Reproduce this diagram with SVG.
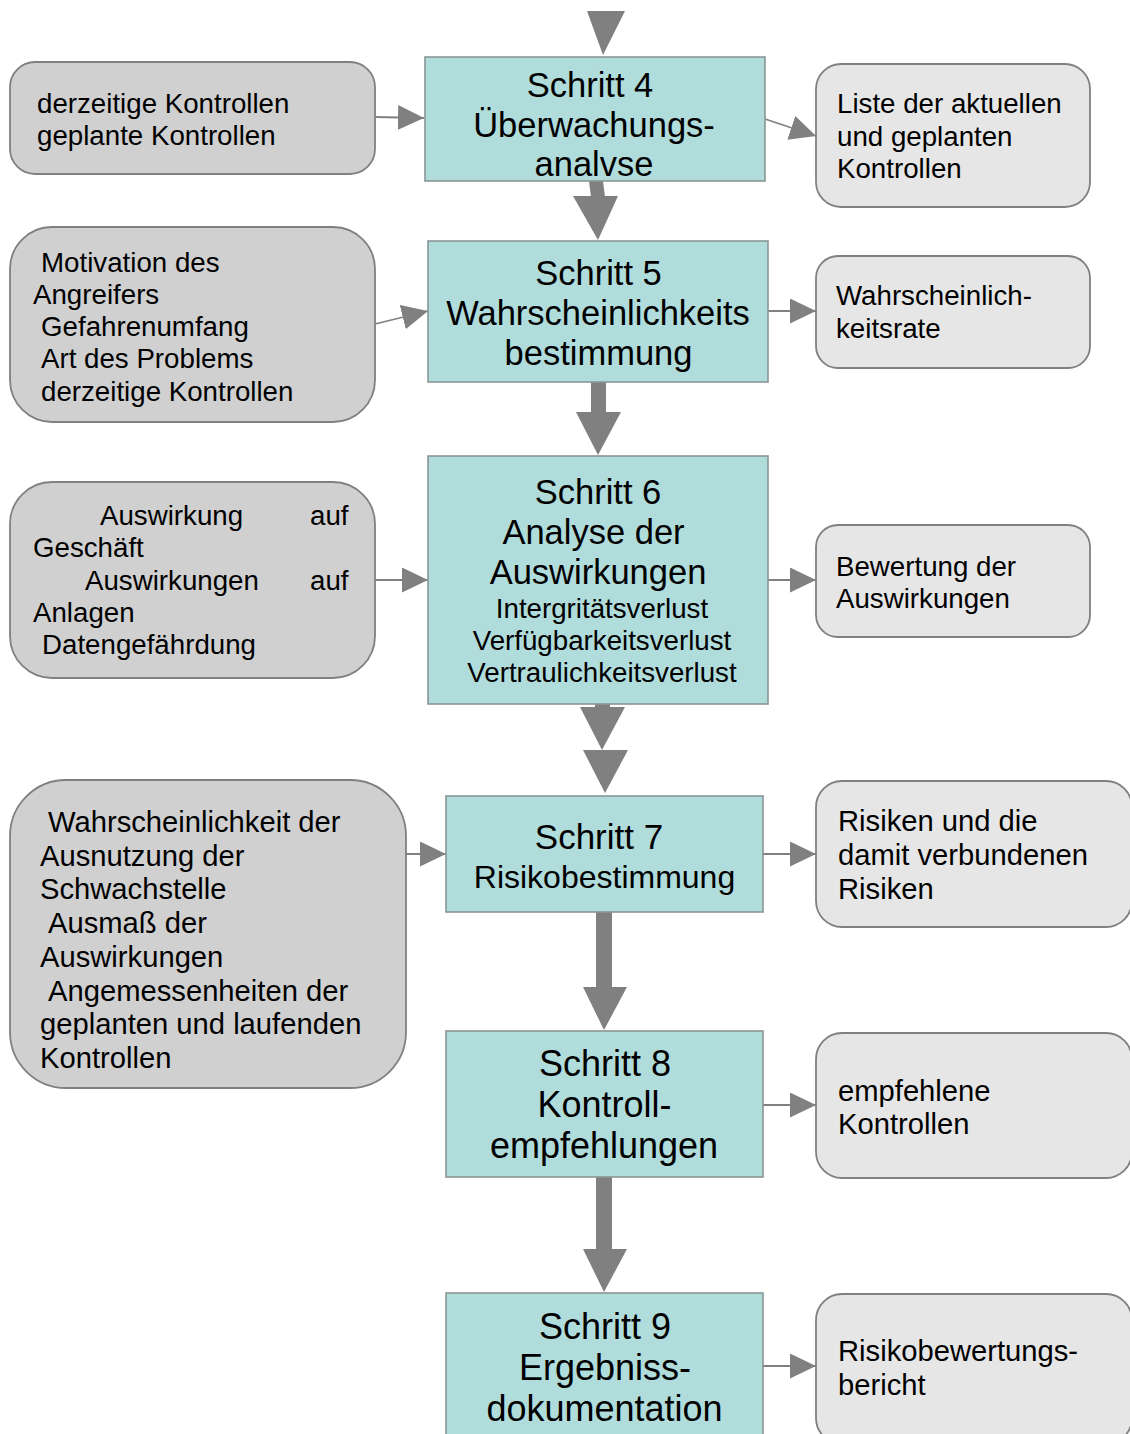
<svg xmlns="http://www.w3.org/2000/svg" width="1130" height="1434" viewBox="0 0 1130 1434">
<style>
text{font-family:"Liberation Sans",Arial,sans-serif;fill:#000}
.t{font-size:34.5px;text-anchor:middle}
.tl{font-size:36px;text-anchor:middle}
.s{font-size:27.7px}
.m{font-size:27.7px;text-anchor:middle}
.b{font-size:29.2px}
.step{fill:#b0dcdb;stroke:#8a9696;stroke-width:1.6}
.in{fill:#d0d0d0;stroke:#808080;stroke-width:1.8}
.out{fill:#e6e6e6;stroke:#808080;stroke-width:1.8}
.ln{stroke:#808080;stroke-width:1.8;fill:none;marker-end:url(#ah)}
.fat{fill:#808080}
</style>
<defs>
<marker id="ah" markerUnits="userSpaceOnUse" markerWidth="27" markerHeight="26" refX="26" refY="12.5" orient="auto">
<path d="M0,0 L26,12.5 L0,25 Z" fill="#808080"/>
</marker>
</defs>
<rect width="1130" height="1434" fill="#fff"/>

<g id="connectors">
<polygon class="fat" points="587,11 625,11 603,55"/>
<polygon class="fat" points="589,181 603,181 605,197 591,197"/>
<polygon class="fat" points="573,196 618,196 598,240"/>
<rect class="fat" x="591" y="382" width="15" height="31"/>
<polygon class="fat" points="576,412 621,412 598,455"/>
<rect class="fat" x="595" y="704" width="15" height="4"/>
<polygon class="fat" points="580,707 625,707 602,750"/>
<polygon class="fat" points="583,750 628,750 605,793"/>
<rect class="fat" x="596" y="912" width="16" height="76"/>
<polygon class="fat" points="583,987 627,987 604,1030"/>
<rect class="fat" x="596" y="1177" width="16" height="73"/>
<polygon class="fat" points="583,1249 627,1249 604,1292"/>
<line class="ln" x1="375" y1="117" x2="424" y2="118"/>
<line class="ln" x1="765" y1="119" x2="816" y2="136"/>
<line class="ln" x1="375" y1="324" x2="428" y2="311"/>
<line class="ln" x1="768" y1="311" x2="816" y2="311"/>
<line class="ln" x1="374" y1="580" x2="428" y2="580"/>
<line class="ln" x1="768" y1="580" x2="816" y2="580"/>
<line class="ln" x1="405" y1="854" x2="446" y2="854"/>
<line class="ln" x1="763" y1="854" x2="816" y2="854"/>
<line class="ln" x1="763" y1="1105" x2="816" y2="1105"/>
<line class="ln" x1="763" y1="1366" x2="816" y2="1366"/>
</g>

<g id="step4">
<rect class="step" x="425" y="57" width="340" height="124"/>
<text class="t"><tspan x="590" y="96.5">Schritt 4</tspan><tspan x="594" y="136.5">Überwachungs-</tspan><tspan x="594" y="176">analvse</tspan></text>
</g>
<g id="in4">
<rect class="in" x="10" y="62" width="365" height="112" rx="25"/>
<text class="s"><tspan x="37" y="113">derzeitige Kontrollen</tspan><tspan x="37" y="145">geplante Kontrollen</tspan></text>
</g>
<g id="out4">
<rect class="out" x="816" y="64" width="274" height="143" rx="25"/>
<text class="s"><tspan x="837" y="113">Liste der aktuellen</tspan><tspan x="837" y="145.5">und geplanten</tspan><tspan x="837" y="177.5">Kontrollen</tspan></text>
</g>

<g id="step5">
<rect class="step" x="428" y="241" width="340" height="141"/>
<text class="t"><tspan x="598.5" y="285">Schritt 5</tspan><tspan x="598" y="325">Wahrscheinlichkeits</tspan><tspan x="598.5" y="365">bestimmung</tspan></text>
</g>
<g id="in5">
<rect class="in" x="10" y="227" width="365" height="195" rx="42"/>
<text class="s"><tspan x="41" y="272">Motivation des</tspan><tspan x="33" y="304">Angreifers</tspan><tspan x="41" y="336">Gefahrenumfang</tspan><tspan x="41" y="368">Art des Problems</tspan><tspan x="41" y="400.5">derzeitige Kontrollen</tspan></text>
</g>
<g id="out5">
<rect class="out" x="816" y="256" width="274" height="112" rx="22"/>
<text class="s"><tspan x="836" y="305">Wahrscheinlich-</tspan><tspan x="836" y="338">keitsrate</tspan></text>
</g>

<g id="step6">
<rect class="step" x="428" y="456" width="340" height="248"/>
<text class="t"><tspan x="598" y="504">Schritt 6</tspan><tspan x="593.5" y="544">Analyse der</tspan><tspan x="598" y="583.5">Auswirkungen</tspan></text>
<text class="m"><tspan x="602" y="617.5">Intergritätsverlust</tspan><tspan x="602" y="649.5">Verfügbarkeitsverlust</tspan><tspan x="602" y="681.5">Vertraulichkeitsverlust</tspan></text>
</g>
<g id="in6">
<rect class="in" x="10" y="482" width="365" height="196" rx="42"/>
<text class="s"><tspan x="100" y="525">Auswirkung</tspan><tspan x="310" y="525">auf</tspan><tspan x="33" y="557">Geschäft</tspan><tspan x="85" y="589.5">Auswirkungen</tspan><tspan x="310" y="589.5">auf</tspan><tspan x="33" y="622">Anlagen</tspan><tspan x="42" y="654">Datengefährdung</tspan></text>
</g>
<g id="out6">
<rect class="out" x="816" y="525" width="274" height="112" rx="22"/>
<text class="s"><tspan x="836" y="576">Bewertung der</tspan><tspan x="836" y="608">Auswirkungen</tspan></text>
</g>

<g id="step7">
<rect class="step" x="446" y="796" width="317" height="116"/>
<text><tspan class="t" style="font-size:35px" x="599" y="848.5">Schritt 7</tspan><tspan class="t" style="font-size:32px" x="604.5" y="887.5">Risikobestimmung</tspan></text>
</g>
<g id="in7">
<rect class="in" x="10" y="780" width="396" height="308" rx="56"/>
<text class="b"><tspan x="48" y="831.5">Wahrscheinlichkeit der</tspan><tspan x="40" y="865.5">Ausnutzung der</tspan><tspan x="40" y="899">Schwachstelle</tspan><tspan x="48" y="933">Ausmaß der</tspan><tspan x="40" y="967">Auswirkungen</tspan><tspan x="48" y="1000.5">Angemessenheiten der</tspan><tspan x="40" y="1034">geplanten und laufenden</tspan><tspan x="40" y="1067.5">Kontrollen</tspan></text>
</g>
<g id="out7">
<rect class="out" x="816" y="781" width="316" height="146" rx="26"/>
<text class="b"><tspan x="838" y="831">Risiken und die</tspan><tspan x="838" y="865">damit verbundenen</tspan><tspan x="838" y="898.5">Risiken</tspan></text>
</g>

<g id="step8">
<rect class="step" x="446" y="1031" width="317" height="146"/>
<text class="tl"><tspan x="605" y="1076">Schritt 8</tspan><tspan x="604.5" y="1117">Kontroll-</tspan><tspan x="604" y="1158">empfehlungen</tspan></text>
</g>
<g id="out8">
<rect class="out" x="816" y="1033" width="316" height="145" rx="26"/>
<text class="b"><tspan x="838" y="1100.5">empfehlene</tspan><tspan x="838" y="1133.5">Kontrollen</tspan></text>
</g>

<g id="step9">
<rect class="step" x="446" y="1293" width="317" height="150"/>
<text class="tl"><tspan x="605" y="1339">Schritt 9</tspan><tspan x="605" y="1380">Ergebniss-</tspan><tspan x="604.5" y="1421">dokumentation</tspan></text>
</g>
<g id="out9">
<rect class="out" x="816" y="1294" width="316" height="150" rx="26"/>
<text class="b"><tspan x="838" y="1361">Risikobewertungs-</tspan><tspan x="838" y="1395">bericht</tspan></text>
</g>
</svg>
